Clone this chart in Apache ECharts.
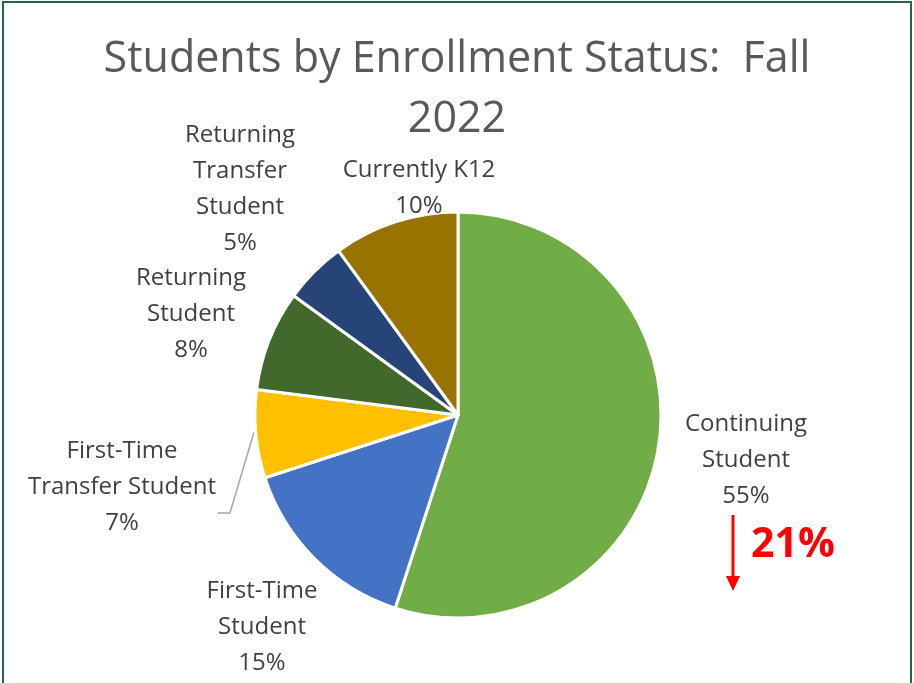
<!DOCTYPE html>
<html>
<head>
<meta charset="utf-8">
<script src="https://cdn.jsdelivr.net/npm/echarts@6/dist/echarts.min.js"></script>
<style>
  html, body { margin: 0; padding: 0; background: #fff; }
  #chart { width: 914px; height: 683px; }
</style>
</head>
<body>
<div id="chart"></div>
<script>
// enrollment status, fall 2022 (percent of students)
var categories = ['Continuing Student', 'First-Time Student', 'First-Time Transfer Student',
  'Returning Student', 'Returning Transfer Student', 'Currently K12'];
var values = [55, 15, 7, 8, 5, 10];
var colors = ['#70AD47', '#4472C4', '#FFC000', '#43682B', '#264478', '#997300'];
// how Excel wrapped each label
var wrapped = ['Continuing\nStudent', 'First-Time\nStudent', 'First-Time\nTransfer Student',
  'Returning\nStudent', 'Returning\nTransfer\nStudent', 'Currently K12'];
var changeText = '21%';

var font = '"Open Sans", Lato, sans-serif';
var myChart = echarts.init(document.getElementById('chart'));

// where the data labels sit (label centre)
var labelPos = [[746, 460], [262, 627], [122, 487], [191, 314], [240, 189], [419, 188]];

var option = {
  backgroundColor: '#fff',
  title: {
    text: 'Students by Enrollment Status:  Fall\n2022',
    left: 'center',
    top: 25,
    textStyle: {
      fontFamily: font,
      fontWeight: 'normal',
      fontSize: 43,
      lineHeight: 60,
      color: '#595959'
    }
  },
  series: [{
    type: 'pie',
    center: [458, 415],
    radius: [0, 203],
    startAngle: 90,
    clockwise: true,
    percentPrecision: 0,
    animation: false,
    itemStyle: {
      borderColor: '#fff',
      borderWidth: 3
    },
    label: {
      show: true,
      fontFamily: font,
      fontSize: 24,
      lineHeight: 36,
      color: '#404040',
      align: 'center',
      formatter: function (p) {
        return wrapped[p.dataIndex] + '\n' + p.percent + '%';
      }
    },
    labelLine: { show: false },
    labelLayout: function (p) {
      var pos = labelPos[p.dataIndex];
      var res = {
        x: pos[0],
        y: pos[1],
        align: 'center',
        verticalAlign: 'middle'
      };
      if (p.dataIndex === 2) {
        res.labelLinePoints = [[254, 432], [230, 513], [218, 513]];
      }
      return res;
    },
    data: categories.map(function (c, i) {
      var d = {
        name: c,
        value: values[i],
        itemStyle: { color: colors[i] }
      };
      if (i === 2) {
        d.labelLine = { show: true, lineStyle: { color: '#A6A6A6', width: 1.5 } };
      }
      return d;
    })
  }],
  graphic: [
    {
      type: 'rect',
      shape: { x: 3, y: 2, width: 908, height: 690 },
      style: { fill: null, stroke: '#1E6B4A', lineWidth: 2 },
      silent: true
    },
    {
      type: 'line',
      shape: { x1: 733, y1: 515, x2: 733, y2: 578 },
      style: { stroke: '#FF0000', lineWidth: 3 }
    },
    {
      type: 'polygon',
      shape: { points: [[726, 576], [740, 576], [733, 591]] },
      style: { fill: '#FF0000' }
    },
    {
      type: 'text',
      left: 751,
      top: 525,
      style: {
        text: changeText,
        fill: '#FF0000',
        fontFamily: font,
        fontWeight: 'bold',
        fontSize: 41
      }
    }
  ]
};

myChart.setOption(option);
</script>
</body>
</html>
